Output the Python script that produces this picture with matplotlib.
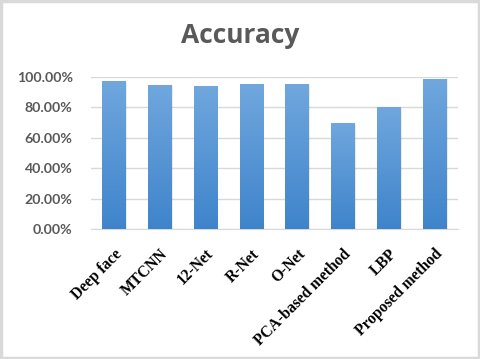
import numpy as np
import matplotlib.pyplot as plt
from matplotlib.colors import LinearSegmentedColormap
from matplotlib.patches import Rectangle
from matplotlib.ticker import FuncFormatter

# Accuracy per method
methods = ['Deep face', 'MTCNN', '12-Net', 'R-Net', 'O-Net',
           'PCA-based method', 'LBP', 'Proposed method']
accuracy = [0.970, 0.946, 0.939, 0.950, 0.950, 0.695, 0.800, 0.987]
y_ticks = [0.0, 0.2, 0.4, 0.6, 0.8, 1.0]

fig = plt.figure(figsize=(4.8, 3.59), dpi=100)
ax = fig.add_axes([0.189, 0.3613, 0.7645, 0.4251])

# gradient fill for bars (lighter on top, darker at bottom)
cmap = LinearSegmentedColormap.from_list('bar', ['#3f84cb', '#70a7de'])
grad = np.linspace(0, 1, 256).reshape(-1, 1)

bars = ax.bar(range(len(methods)), accuracy, width=0.51, color='none',
              edgecolor='none', zorder=3)
for b in bars:
    x0, w, h = b.get_x(), b.get_width(), b.get_height()
    im = ax.imshow(grad, cmap=cmap, origin='lower', aspect='auto',
                   extent=[x0, x0 + w, 0, h], zorder=3)
    im.set_clip_path(b)
    # soft shadow
    ax.add_patch(Rectangle((x0 + 0.03, 0), w, h - 0.005, color='#000000',
                           alpha=0.08, zorder=2, linewidth=0))

ax.set_xlim(-0.5, len(methods) - 0.5)
ax.set_ylim(0, 1.0)
ax.set_yticks(y_ticks)
ax.yaxis.set_major_formatter(FuncFormatter(lambda v, p: f'{v * 100:.2f}%'))
ax.grid(axis='y', color='#d9d9d9', linewidth=1, zorder=0)
ax.set_axisbelow(True)

for s in ['top', 'right', 'left']:
    ax.spines[s].set_visible(False)
ax.spines['bottom'].set_color('#d9d9d9')
ax.tick_params(axis='both', length=0)
ax.tick_params(axis='y', pad=13, labelsize=10.2, labelcolor='#595959')
for lbl in ax.get_yticklabels():
    lbl.set_fontweight('bold')
    lbl.set_family('Lato')

ax.set_xticks(range(len(methods)))
ax.set_xticklabels(methods, rotation=45, ha='right', rotation_mode='anchor',
                   fontsize=11.2, fontweight='bold', family='Liberation Serif')
ax.tick_params(axis='x', pad=12)

fig.text(0.5, 0.9, 'Accuracy', ha='center', va='center', fontsize=19,
         fontweight='bold', color='#595959', family='Open Sans')

# light grey frame around the whole chart
fig.patches.append(Rectangle((0.003, 0.004), 0.994, 0.992,
                             transform=fig.transFigure, fill=False,
                             edgecolor='#d9d9d9', linewidth=2.5))

plt.savefig('out.png', dpi=100)
